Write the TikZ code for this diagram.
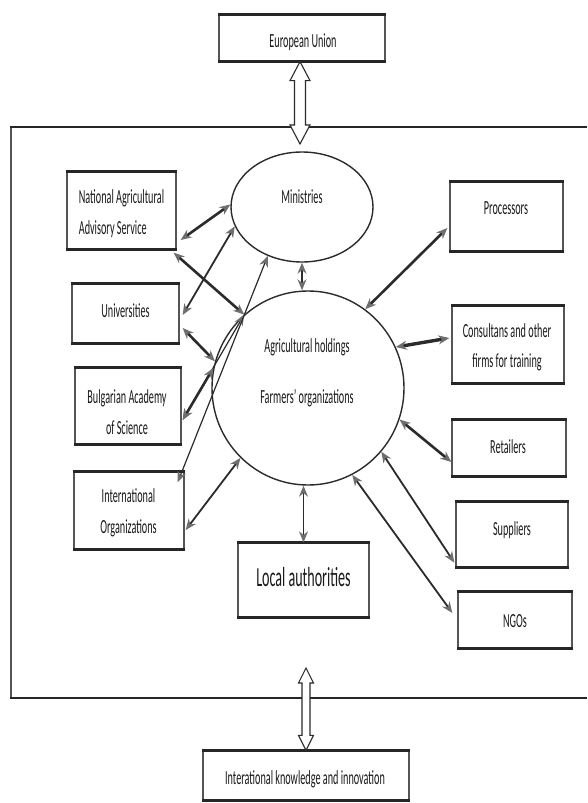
\documentclass[tikz,border=0pt]{standalone}
\usepackage{fontspec}
\setmainfont{Carlito}[FakeStretch=0.51]
\usetikzlibrary{calc,arrows.meta,shapes.geometric}
\definecolor{ln}{HTML}{2B2B2B}
\definecolor{hd}{HTML}{6E6E6E}
\definecolor{side}{HTML}{555555}
\begin{document}
\begin{tikzpicture}[x=1pt,y=-1pt,
  box/.style={draw=side, line width=1.3pt, rectangle, inner sep=0pt},
  ell/.style={draw=ln, line width=1.4pt, ellipse, inner sep=0pt, fill=white},
  txt/.style={inner sep=0pt, align=center, text=black!90, font=\fontsize{20}{30.5}\selectfont},
  con/.style={draw=ln, {Stealth[length=11pt,width=9pt,color=hd]}-{Stealth[length=11pt,width=9pt,color=hd]}},
  thk/.style={line width=2.6pt},
  med/.style={line width=1.8pt},
  thn/.style={line width=1.2pt},
  edge/.style={draw=black!85, line width=2.8pt},
  hollow/.style={draw=ln, line width=1.1pt, fill=white, line join=miter}
]
\useasboundingbox (0,0) rectangle (587,803);
\fill[white] (0,0) rectangle (587,803);

% outer frame
\draw[draw=side, line width=1.3pt] (11,127) -- (11,698);
\draw[edge] (10,127) -- (587,127);
\draw[edge] (10,698) -- (587,698);

% boxes
\node[box, minimum width=166pt, minimum height=46pt] (eu) at (302,38) {};
\node[box, minimum width=109pt, minimum height=77pt] (naas) at (121.5,210.5) {};
\node[box, minimum width=107pt, minimum height=59pt] (univ) at (125.5,313.5) {};
\node[box, minimum width=106pt, minimum height=76pt] (bulg) at (128,406) {};
\node[box, minimum width=110pt, minimum height=77pt] (intorg) at (129,510.5) {};
\node[box, minimum width=113pt, minimum height=69pt] (proc) at (506.5,216.5) {};
\node[box, minimum width=112pt, minimum height=77pt] (cons) at (508,344.5) {};
\node[box, minimum width=114pt, minimum height=56pt] (ret) at (509,448) {};
\node[box, minimum width=112pt, minimum height=65pt] (supp) at (512,534.5) {};
\node[box, minimum width=114pt, minimum height=56pt] (ngo) at (515,620) {};
\node[box, minimum width=131pt, minimum height=74pt] (la) at (303.5,580) {};
\node[box, minimum width=206pt, minimum height=49pt] (iki) at (306,775.5) {};
\foreach \n in {eu,naas,univ,bulg,intorg,proc,cons,ret,supp,ngo,la,iki}
  \draw[edge] (\n.north west) -- (\n.north east) (\n.south west) -- (\n.south east);

% ellipses
\node[ell, minimum width=142pt, minimum height=110pt] (mini) at (302,207) {};
\node[ell, minimum width=192pt, minimum height=194pt] (big) at (308,388) {};

% texts
\node[txt] (eu-t) at (303,42) {European Union};
\node[txt, align=left] (naas-t) at (121.5,213.5) {National Agricultural\\Advisory Service};
\node[txt] (univ-t) at (125.5,311) {Universities};
\node[txt] (bulg-t) at (127,412) {Bulgarian Academy\\of Science};
\node[txt] (intorg-t) at (128.5,513) {International\\Organizations};
\node[txt] (mini-t) at (302,197) {Ministries};
\node[txt] (big-t1) at (307,347) {Agricultural holdings};
\node[txt] (big-t2) at (307,398) {Farmers’ organizations};
\node[txt] (proc-t) at (506,208) {Processors};
\node[txt] (cons-t) at (507,347.5) {Consultans and other\\firms for training};
\node[txt] (ret-t) at (508,447) {Retailers};
\node[txt] (supp-t) at (512,530) {Suppliers};
\node[txt] (ngo-t) at (515,621) {NGOs};
\node[txt, font=\fontsize{27.6}{30}\selectfont] (la-t) at (303.5,577) {Local authorities};
\node[txt] (iki-t) at (305,779) {Interational knowledge and innovation};

% connectors
\draw[con,thk] ($(naas.east)+(4,29.5)$) -- (mini.178);
\draw[con,thk] ($(naas.south east)+(-3,3)$) -- (big.131);
\draw[con,med] ($(univ.east)+(3,1.5)$) -- (mini.196);
\draw[con,thk] ($(univ.east)+(3,14.5)$) -- (big.164);
\draw[con,thn] ($(bulg.east)+(1,14)$) -- (big.131);
\draw[con,thk] ($(bulg.east)+(1,14)$) -- (big.168);
\draw[con,thn] ($(intorg.north east)+(-7,11)$) -- (mini.235);
\draw[con,med] ($(intorg.east)+(1,19.5)$) -- (big.226);
\draw[con,thn] (mini.south) -- (mini.south |- big.north);
\draw[con,thk] ($(proc.west)+(-2,11.5)$) -- (big.54);
\draw[con,line width=3.4pt] ($(cons.west)+(-2,-6.5)$) -- (big.25);
\draw[con,thk] ($(ret.west)+(0,14)$) -- (big.341);
\draw[con,med] ($(supp.south west)+(-1,-5)$) -- (big.319);
\draw[con,med] ($(ngo.west)+(-5,-7)$) -- (big.297);
\draw[con,thn] (la.north) -- (la.north |- big.south);

% hollow double arrows
\coordinate (euT) at ($(eu.south)+(-2,0)$);
\coordinate (euB) at (300,144);
\draw[hollow] (euT) -- ($(euT)+(10,19)$) -- ($(euT)+(5.5,19)$) -- ($(euB)+(5.5,-19)$)
  -- ($(euB)+(10,-19)$) -- (euB) -- ($(euB)+(-10,-19)$) -- ($(euB)+(-5.5,-19)$)
  -- ($(euT)+(-5.5,19)$) -- ($(euT)+(-10,19)$) -- cycle;
\coordinate (ikT) at (306,668);
\coordinate (ikB) at (iki.north);
\draw[hollow] (ikT) -- ($(ikT)+(7.5,15)$) -- ($(ikT)+(4,15)$) -- ($(ikB)+(4,-15)$)
  -- ($(ikB)+(7.5,-15)$) -- (ikB) -- ($(ikB)+(-7.5,-15)$) -- ($(ikB)+(-4,-15)$)
  -- ($(ikT)+(-4,15)$) -- ($(ikT)+(-7.5,15)$) -- cycle;
\end{tikzpicture}
\end{document}
